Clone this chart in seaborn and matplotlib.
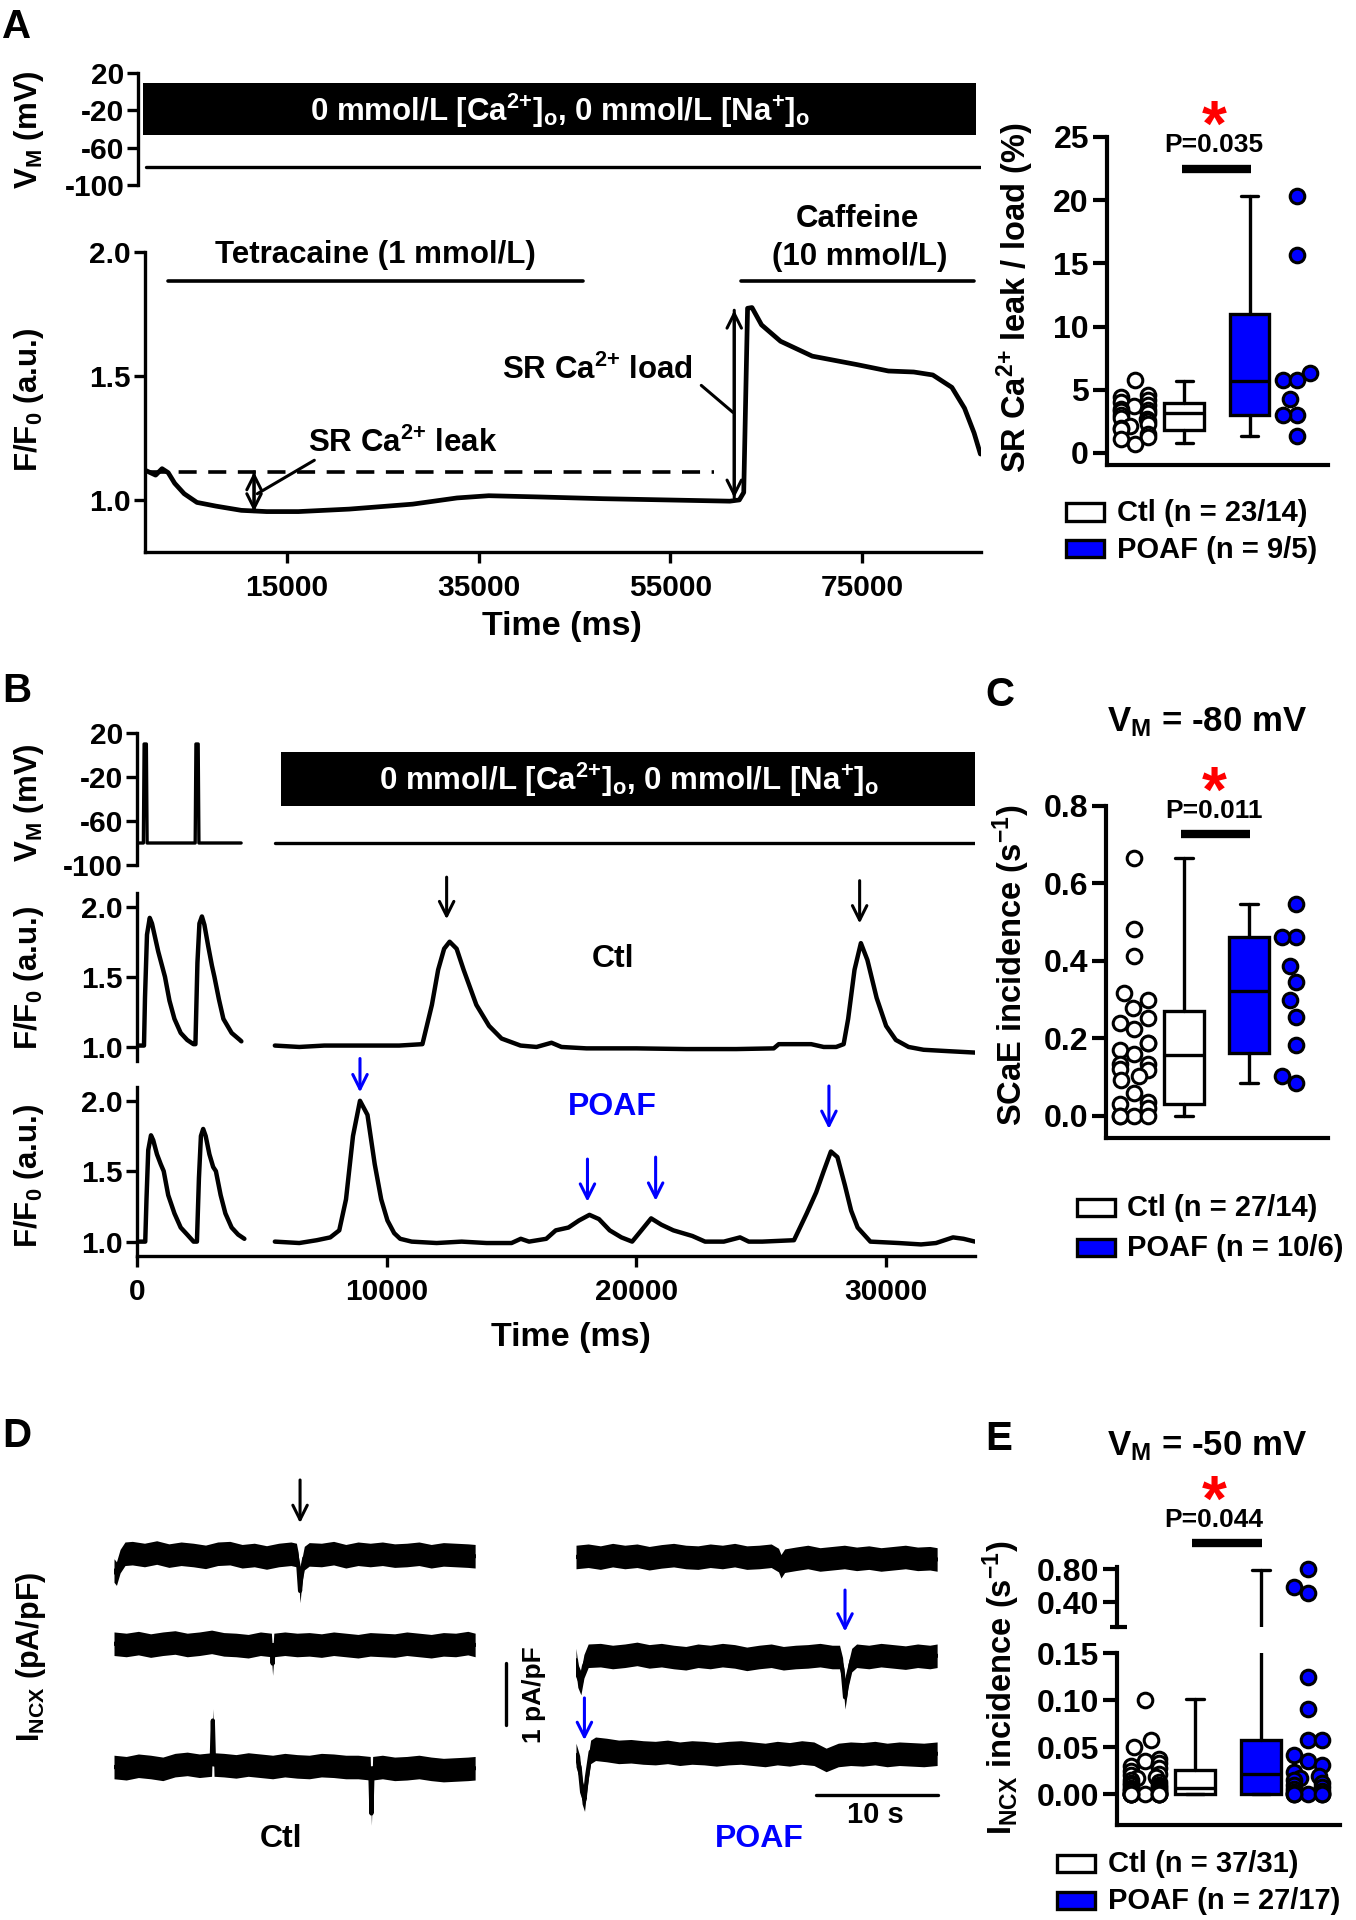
import warnings
import numpy as np
import matplotlib
matplotlib.use("Agg")
import matplotlib.pyplot as plt
import seaborn as sns
from matplotlib.patches import Rectangle

warnings.filterwarnings("ignore")

# ---------------- Panel A : caffeine protocol (F/F0 vs ms) ----------------
a_time = [300, 1290, 1960, 2600, 3280, 4270, 5600, 7590, 10230, 12880, 16190, 21490,
          28110, 32740, 36050, 41350, 47970, 54590, 61210, 62200, 62660, 63060, 63520,
          64520, 66500, 69810, 74450, 77760, 80400, 82390, 84380, 85700, 86700, 87360]
a_ratio = [1.118, 1.10, 1.126, 1.11, 1.067, 1.025, 0.99, 0.975, 0.958, 0.953, 0.953, 0.963,
           0.983, 1.008, 1.017, 1.012, 1.005, 1.0, 0.995, 1.0, 1.03, 1.773, 1.776,
           1.706, 1.64, 1.58, 1.546, 1.52, 1.516, 1.504, 1.454, 1.37, 1.27, 1.185]
a_vm_time = [300, 87360]
a_vm = [-80, -80]
a_bar_time = [0, 86900]
a_bar_mv = [-46.5, 9.0]
a_baseline_time = [640, 59550]
a_baseline = [1.113, 1.113]
a_leak_time = 11560
a_leak_range = [1.113, 0.953]
a_load_time = 61670
a_load_range = [1.008, 1.765]
a_tetracaine_time = [2620, 45850]
a_caffeine_time = [62400, 86700]

# SR Ca leak / load (%)
a_ctl_pts = [5.8, 4.6, 4.4, 4.2, 4.0, 3.8, 3.7, 3.5, 3.4, 3.3, 3.2, 3.0, 2.8, 2.7,
             2.5, 2.3, 2.1, 2.0, 1.9, 1.5, 1.3, 1.1, 0.75]
a_poaf_pts = [20.3, 15.7, 6.3, 5.8, 5.8, 4.3, 3.0, 3.0, 1.37]
a_ctl_box = [0.79, 1.84, 3.16, 3.95, 5.7]      # min, q1, median, q3, max
a_poaf_box = [1.37, 2.97, 5.66, 10.97, 20.3]

# ---------------- Panel B : spontaneous Ca events (F/F0 vs ms) ----------------
b_vm_left_t = [50, 255, 285, 375, 405, 2330, 2360, 2450, 2480, 4170]
b_vm_left = [-80, -80, 10, 10, -80, -80, 10, 10, -80, -80]
b_vm_right_t = [5520, 33560]
b_vm_right = [-80, -80]
b_bar_time = [5770, 33560]
b_bar_mv = [-46.4, 2.7]

b_ctl_left_t = [50, 280, 320, 400, 510, 600, 700, 850, 1000, 1120, 1300, 1500, 1750, 2010,
                2260, 2340, 2420, 2500, 2600, 2700, 2850, 3000, 3100, 3280, 3460, 3790, 4120, 4180]
b_ctl_left = [1.01, 1.01, 1.35, 1.8, 1.92, 1.88, 1.8, 1.68, 1.58, 1.5, 1.33, 1.2, 1.1, 1.05,
              1.02, 1.02, 1.6, 1.88, 1.93, 1.87, 1.72, 1.58, 1.5, 1.34, 1.2, 1.1, 1.05, 1.04]
b_ctl_right_t = [5520, 6500, 7500, 8500, 9500, 10500, 11430, 11810, 12060, 12300, 12520, 12800,
                 13080, 13590, 14100, 14600, 15360, 16000, 16600, 17000, 18000, 20000, 22000,
                 24000, 25500, 25700, 26500, 27000, 27500, 28000, 28300, 28480, 28735, 28990,
                 29250, 29620, 30000, 30390, 30900, 31500, 32500, 33560]
b_ctl_right = [1.01, 1.0, 1.01, 1.01, 1.01, 1.01, 1.02, 1.3, 1.55, 1.7, 1.75, 1.7,
               1.55, 1.3, 1.15, 1.06, 1.01, 1.0, 1.03, 1.0, 0.99, 0.99, 0.985,
               0.985, 0.99, 1.02, 1.02, 1.02, 1.0, 1.0, 1.02, 1.2, 1.55, 1.74,
               1.62, 1.35, 1.15, 1.05, 1.0, 0.98, 0.97, 0.96]
b_poaf_left_t = [50, 330, 380, 450, 560, 650, 800, 950, 1070, 1250, 1500, 1750, 2010, 2265,
                 2400, 2480, 2560, 2650, 2750, 2900, 3050, 3160, 3350, 3540, 3790, 4050, 4300]
b_poaf_left = [1.0, 1.0, 1.3, 1.65, 1.755, 1.72, 1.62, 1.55, 1.5, 1.33, 1.2, 1.1, 1.05, 1.0,
               1.0, 1.45, 1.75, 1.8, 1.75, 1.62, 1.53, 1.5, 1.33, 1.2, 1.1, 1.05, 1.02]
b_poaf_right_t = [5520, 6500, 7200, 7740, 8100, 8370, 8650, 8930, 9230, 9520, 9780, 10030,
                  10300, 10540, 11000, 12000, 13000, 14000, 15000, 15370, 15700, 16390, 16770,
                  17280, 17700, 18120, 18500, 18930, 19400, 19830, 20200, 20590, 21000, 21480,
                  22240, 22750, 23500, 24150, 24500, 25040, 26310, 26820, 27200, 27500, 27790,
                  28050, 28350, 28600, 28860, 29370, 30500, 31400, 32000, 32680, 33100, 33560]
b_poaf_right = [1.0, 0.99, 1.01, 1.03, 1.08, 1.3, 1.75, 2.0, 1.9, 1.55, 1.3, 1.15,
                1.06, 1.02, 1.0, 0.99, 1.0, 0.99, 0.99, 1.02, 1.0, 1.02, 1.08,
                1.1, 1.15, 1.19, 1.16, 1.08, 1.03, 1.0, 1.08, 1.165, 1.12, 1.08,
                1.04, 1.0, 1.0, 1.03, 1.0, 1.0, 1.01, 1.2, 1.35, 1.5, 1.64,
                1.6, 1.4, 1.22, 1.1, 1.0, 0.99, 0.98, 0.99, 1.03, 1.02, 1.0]
b_ctl_arrow_t = [12400, 28940]
b_ctl_arrow_from = [2.21, 2.185]
b_ctl_arrow_to = [1.91, 1.88]
b_poaf_arrow_t = [8930, 18040, 20770, 27710]
b_poaf_arrow_from = [2.30, 1.586, 1.60, 2.105]
b_poaf_arrow_to = [2.06, 1.283, 1.29, 1.80]

# ---------------- Panel C : SCaE incidence (s-1) ----------------
c_ctl_pts = [0.666, 0.482, 0.412, 0.318, 0.298, 0.278, 0.253, 0.239, 0.224, 0.189, 0.189,
             0.17, 0.159, 0.134, 0.134, 0.12, 0.119, 0.104, 0.094, 0.06, 0.035, 0.03, 0.02,
             0.0, 0.0, 0.0, 0.0]
c_poaf_pts = [0.547, 0.462, 0.462, 0.388, 0.345, 0.298, 0.255, 0.184, 0.104, 0.0845]
c_ctl_box = [0.0, 0.030, 0.157, 0.270, 0.666]
c_poaf_box = [0.0845, 0.162, 0.323, 0.462, 0.547]

# ---------------- Panel D : I_NCX traces (pA/pF vs s) ----------------
d_ctl1_t = [0, 0.2, 0.5, 0.9, 1.5, 2.5, 3.5, 4.5, 5.5, 6.5, 7.5, 8.5, 9.5, 10.5, 11.5, 12.5,
            13.5, 14.5, 14.95, 15.1, 15.25, 15.4, 15.6, 16, 17, 18, 19, 20, 21, 22, 23, 24,
            25, 26, 27, 28, 29, 29.6]
d_ctl1_i = [-0.25, -0.3, -0.1, 0.02, 0.03, 0.0, 0.04, -0.01, 0.02, 0.0, -0.03, 0.02, 0.03,
            -0.02, 0.0, -0.04, 0.0, 0.02, 0.0, -0.15, -0.58, -0.25, -0.05, 0.01, 0.0, 0.03,
            -0.02, 0.02, 0.0, 0.02, -0.01, 0.0, 0.02, -0.02, 0.01, 0.0, -0.01, -0.02]
d_ctl2_t = [0, 1, 2, 3, 4, 5, 6, 7, 8, 9, 10, 11, 12, 12.9, 13.0, 13.1, 14, 15, 16, 17, 18,
            19, 20, 21, 22, 23, 24, 25, 26, 27, 28, 29, 29.6]
d_ctl2_i = [0.02, 0.0, 0.03, -0.01, 0.02, 0.04, 0.0, 0.02, 0.05, 0.01, 0.0, -0.02, 0.02,
            0.0, -0.3, 0.0, 0.02, 0.0, 0.01, -0.01, 0.02, 0.0, -0.02, 0.01, 0.0, -0.01, 0.02,
            0.0, -0.02, 0.01, 0.0, 0.03, 0.0]
d_ctl3_t = [0, 1, 2, 3, 4, 5, 6, 7, 8.0, 8.1, 8.2, 9, 10, 11, 12, 13, 14, 15, 16, 17, 18, 19,
            20, 21.0, 21.1, 21.2, 22, 23, 24, 25, 26, 27, 28, 29, 29.6]
d_ctl3_i = [0.0, -0.02, 0.02, 0.0, -0.03, 0.03, 0.05, 0.02, 0.04, 0.75, 0.04, 0.03, 0.01,
            0.04, 0.02, 0.0, 0.03, 0.01, 0.0, 0.03, 0.02, 0.0, 0.0, -0.02, -0.75, -0.02, 0.0,
            -0.03, -0.02, 0.0, -0.03, -0.05, -0.04, -0.03, -0.02]
d_poaf1_t = [0, 1, 2, 3, 4, 5, 6, 7, 8, 9, 10, 11, 12, 13, 14, 15, 16, 16.6, 16.8, 17.1, 18,
             19, 20, 21, 22, 23, 24, 25, 26, 27, 28, 29, 29.6]
d_poaf1_i = [0.0, 0.02, -0.01, 0.03, 0.0, 0.02, -0.02, 0.01, 0.03, 0.0, -0.01, 0.02, 0.0,
             0.03, -0.01, 0.0, 0.02, -0.05, -0.15, -0.06, -0.03, 0.0, -0.04, -0.02, 0.0, -0.03,
             -0.01, -0.04, -0.02, 0.0, -0.03, -0.02, -0.04]
d_poaf2_t = [0, 0.15, 0.4, 0.65, 1.0, 2, 3, 4, 5, 6, 7, 8, 9, 10, 11, 12, 13, 14, 15, 16, 17,
             18, 19, 20, 21, 21.6, 21.85, 22.05, 22.3, 22.6, 23, 24, 25, 26, 27, 28, 29, 29.6]
d_poaf2_i = [-0.05, -0.3, -0.42, -0.15, 0.02, 0.03, 0.0, 0.02, 0.05, 0.01, 0.03, 0.0, -0.02,
             0.02, 0.0, 0.03, 0.01, -0.03, 0.0, 0.02, -0.02, 0.0, 0.01, 0.03, 0.0, 0.0, -0.2,
             -0.65, -0.3, -0.05, 0.02, 0.0, 0.03, 0.01, -0.01, 0.02, 0.0, 0.02]
d_poaf3_t = [0, 0.3, 0.5, 0.7, 0.9, 1.2, 1.6, 2.5, 3.5, 4.5, 5.5, 6.5, 7.5, 8.5, 9.5, 10.5,
             11.5, 12.5, 13.5, 14.5, 15.5, 16.5, 17.5, 18.5, 19.5, 20.5, 21.5, 22.5, 23.5,
             24.5, 25.5, 26.5, 27.5, 28.5, 29.6]
d_poaf3_i = [0.0, -0.2, -0.6, -0.72, -0.35, 0.05, 0.1, 0.08, 0.05, 0.06, 0.04, 0.03, 0.05,
             0.02, 0.04, 0.03, 0.01, 0.03, 0.04, 0.02, 0.0, 0.03, 0.01, 0.04, 0.02, -0.08,
             0.0, 0.02, 0.01, 0.03, 0.0, 0.02, 0.01, 0.0, 0.02]
d_ctl_arrow = [15.25, 5.645, 4.95]        # time, from, to (top trace)
d_poaf_arrow_t = [22.05, 0.69]
d_poaf_arrow_from = [3.87, 2.13]
d_poaf_arrow_to = [3.2, 1.45]

# ---------------- Panel E : I_NCX incidence (s-1) ----------------
e_ctl_pts = [0.1, 0.058, 0.05, 0.038, 0.035, 0.033, 0.03, 0.028, 0.025, 0.022, 0.02, 0.018,
             0.017, 0.015, 0.013, 0.012, 0.01, 0.01, 0.008, 0.007, 0.006, 0.005, 0.004,
             0.003, 0.002, 0, 0, 0, 0, 0, 0, 0, 0, 0, 0, 0, 0]
e_poaf_pts = [0.8, 0.588, 0.508, 0.125, 0.091, 0.058, 0.058, 0.042, 0.035, 0.031, 0.024,
              0.019, 0.017, 0.015, 0.012, 0.010, 0.008, 0.006, 0.004, 0.002, 0, 0, 0, 0, 0,
              0, 0]
e_ctl_box = [0.0, 0.0, 0.007, 0.026, 0.101]
e_poaf_box = [0.0, 0.0, 0.022, 0.058, 0.79]

# ---------------- style ----------------
sns.set_theme(style="ticks")
plt.rcParams.update({
    "font.family": ["Liberation Sans", "DejaVu Sans"],
    "font.weight": "bold",
    "axes.labelweight": "bold",
    "mathtext.default": "regular",
    "axes.unicode_minus": False,
    "axes.edgecolor": "black",
    "xtick.color": "black",
    "ytick.color": "black",
})

BLUE = "#0000ff"
W, H = 1356, 1920
POS = [0.0, 0.9, 2.08, 2.93]      # ctl dots, ctl box, poaf box, poaf dots
SW = 1.6                          # x stretch of the dot overlay (keeps swarms narrow)
TR_FS = 22.5
TICK_FS = 21.5
CA2 = r"Ca$^{2{+}}$"

fig = plt.figure(figsize=(W / 100, H / 100), dpi=100)


def px_axes(l, t, r, b):
    return fig.add_axes([l / W, 1 - b / H, (r - l) / W, (b - t) / H])


def ftext(x, y, s, size=TR_FS, ha="center", va="baseline", color="black", rot=0):
    fig.text(x / W, 1 - y / H, s, fontsize=size, ha=ha, va=va, color=color,
             rotation=rot, fontweight="bold")


def style_trace(ax, xaxis=False):
    ax.set_facecolor("none")
    ax.spines["top"].set_visible(False)
    ax.spines["right"].set_visible(False)
    ax.spines["bottom"].set_visible(xaxis)
    for s in ("left", "bottom"):
        ax.spines[s].set_linewidth(2.4)
    ax.tick_params(axis="y", length=8, width=2.4, labelsize=TICK_FS, pad=2)
    if xaxis:
        ax.tick_params(axis="x", length=8, width=2.4, labelsize=TICK_FS, pad=8)
    else:
        ax.tick_params(axis="x", bottom=False, labelbottom=False)


def arrow(ax, x, y0, y1, color):
    ax.annotate("", xy=(x, y1), xytext=(x, y0), annotation_clip=False,
                arrowprops=dict(arrowstyle="->", color=color, lw=2.2, mutation_scale=26,
                                shrinkA=0, shrinkB=0))


def boxes(ax, items):
    for stats, pos, face in items:
        lo, q1, med, q3, hi = stats
        ax.bxp([dict(whislo=lo, q1=q1, med=med, q3=q3, whishi=hi, fliers=[])],
               positions=[pos], widths=0.72, capwidths=0.32, patch_artist=True,
               showfliers=False, manage_ticks=False,
               boxprops=dict(facecolor=face, edgecolor="black", linewidth=2.4),
               medianprops=dict(color="black", linewidth=2.4),
               whiskerprops=dict(color="black", linewidth=2.4),
               capprops=dict(color="black", linewidth=2.4))


def dots(ax, groups):
    # overlay with stretched x scale so seaborn's swarm gutter is narrower
    ylim = ax.get_ylim()
    axd = fig.add_axes(ax.get_position().bounds)
    axd.set_xlim(-0.5 * SW, 3.5 * SW)
    axd.set_ylim(*ylim)
    for vals, pos, face in groups:
        if len(vals) == 0:
            continue
        sns.swarmplot(x=[pos * SW] * len(vals), y=vals, native_scale=True, orient="x",
                      ax=axd, color=face, edgecolor="black", linewidth=2.2, size=10.5)
    for coll in axd.collections:
        coll.set_clip_on(False)
    axd.set_xlim(-0.5 * SW, 3.5 * SW)
    axd.set_ylim(*ylim)
    axd.axis("off")


def style_box(ax, ylim, ticks, labels, bottom=True):
    ax.set_xlim(-0.5, 3.5)
    ax.set_ylim(*ylim)
    ax.set_facecolor("none")
    ax.spines["top"].set_visible(False)
    ax.spines["right"].set_visible(False)
    ax.spines["bottom"].set_visible(bottom)
    for s in ("left", "bottom"):
        ax.spines[s].set_linewidth(3.0)
    ax.set_xticks([])
    ax.set_yticks(ticks)
    ax.set_yticklabels(labels)
    ax.tick_params(axis="y", length=10, width=3.0, labelsize=23, pad=3)


def legend(px, rows, labels, text_x):
    for (y, lab, face) in zip(rows, labels, ("white", BLUE)):
        fig.patches.append(Rectangle((px[0] / W, 1 - (y + 8.5) / H), (px[1] - px[0]) / W,
                                     17 / H, transform=fig.transFigure, facecolor=face,
                                     edgecolor="black", linewidth=2.4))
        ftext(text_x, y + 9, lab, size=21, ha="left")


def sig(ax, y, p, star_y, p_y):
    ax.plot([POS[1] - 0.05, POS[2] + 0.02], [y, y], color="black", lw=6,
            solid_capstyle="butt", clip_on=False)
    ftext(1214, star_y, "*", size=46, color="red")
    ftext(1214, p_y, p, size=19)


# ================= Panel A =================
ax = px_axes(138.4, 72.9, 981, 185.4)
ax.fill_between(a_bar_time, a_bar_mv[0], a_bar_mv[1], color="black", lw=0)
sns.lineplot(x=a_vm_time, y=a_vm, ax=ax, color="black", lw=2.4)
ax.set_xlim(-506, 87420)
ax.set_ylim(-100, 20)
ax.set_yticks([-100, -60, -20, 20])
style_trace(ax)
ftext(560, 121, "0 mmol/L [" + CA2 + r"]$_{o}$, 0 mmol/L [Na$^{+}$]$_{o}$", color="white")

ax = px_axes(144.8, 252, 981, 552)
sns.lineplot(x=a_time, y=a_ratio, ax=ax, color="black", lw=3.4, sort=False)
ax.plot(a_baseline_time, a_baseline, color="black", lw=2.6, dashes=(5, 3.2))
arrow(ax, a_leak_time, a_leak_range[0], a_leak_range[1], "black")
arrow(ax, a_leak_time, a_leak_range[1], a_leak_range[0], "black")
arrow(ax, a_load_time, a_load_range[0], a_load_range[1], "black")
arrow(ax, a_load_time, a_load_range[1], a_load_range[0], "black")
ax.plot([11900, 17850], [1.025, 1.16], color="black", lw=2.2)
ax.plot([58230, 61540], [1.462, 1.353], color="black", lw=2.2)
ax.plot(a_tetracaine_time, [1.882, 1.882], color="black", lw=2.6, clip_on=False)
ax.plot(a_caffeine_time, [1.882, 1.882], color="black", lw=2.6, clip_on=False)
ax.set_xlim(160, 87420)
ax.set_ylim(0.79, 2.0)
ax.set_yticks([1.0, 1.5, 2.0])
ax.set_xticks([15000, 35000, 55000, 75000])
style_trace(ax, xaxis=True)
ftext(375, 262.5, "Tetracaine (1 mmol/L)")
ftext(857, 227, "Caffeine")
ftext(860, 264.6, "(10 mmol/L)")
ftext(597, 379, "SR " + CA2 + " load")
ftext(403, 452, "SR " + CA2 + " leak")
ftext(562, 635, "Time (ms)", size=24.5)
ftext(28.6, 130, r"V$_{M}$ (mV)", va="center", rot=90)
ftext(28.6, 400, r"F/F$_{0}$ (a.u.)", va="center", rot=90)
ftext(2, 37.5, "A", size=29, ha="left")

# A right : leak/load boxes
a_ticks = [0, 5, 10, 15, 20, 25]
ax = px_axes(1107, 137, 1328, 465)
boxes(ax, [(a_ctl_box, POS[1], "white"), (a_poaf_box, POS[2], BLUE)])
style_box(ax, (-0.95, 25), a_ticks, [str(t) for t in a_ticks])
dots(ax, [(a_ctl_pts, POS[0], "white"), (a_poaf_pts, POS[3], BLUE)])
sig(ax, 22.5, "P=0.035", 146, 151.7)
ftext(1015, 298, "SR " + CA2 + " leak / load (%)", size=23.5, va="center", rot=90)
legend((1066, 1104), (512, 549), ("Ctl (n = 23/14)", "POAF (n = 9/5)"), 1116.7)

# ================= Panel B =================
ax = px_axes(137, 733, 975, 865)
ax.fill_between(b_bar_time, b_bar_mv[0], b_bar_mv[1], color="black", lw=0)
ax.plot(b_vm_left_t, b_vm_left, color="black", lw=2.4)
ax.plot(b_vm_right_t, b_vm_right, color="black", lw=2.4)
ax.set_xlim(0, 33560)
ax.set_ylim(-100, 20)
ax.set_yticks([-100, -60, -20, 20])
style_trace(ax)
ftext(628.6, 790, "0 mmol/L [" + CA2 + r"]$_{o}$, 0 mmol/L [Na$^{+}$]$_{o}$", color="white")

ax = px_axes(137, 892.6, 975, 1061)
ax.plot(b_ctl_left_t, b_ctl_left, color="black", lw=3.2)
ax.plot(b_ctl_right_t, b_ctl_right, color="black", lw=3.2)
for t, y0, y1 in zip(b_ctl_arrow_t, b_ctl_arrow_from, b_ctl_arrow_to):
    arrow(ax, t, y0, y1, "black")
ax.set_xlim(0, 33560)
ax.set_ylim(0.9, 2.1)
ax.set_yticks([1.0, 1.5, 2.0])
style_trace(ax)

ax = px_axes(137, 1086.7, 975, 1255.7)
ax.plot(b_poaf_left_t, b_poaf_left, color="black", lw=3.2)
ax.plot(b_poaf_right_t, b_poaf_right, color="black", lw=3.2)
for t, y0, y1 in zip(b_poaf_arrow_t, b_poaf_arrow_from, b_poaf_arrow_to):
    arrow(ax, t, y0, y1, BLUE)
ax.set_xlim(0, 33560)
ax.set_ylim(0.9, 2.1)
ax.set_yticks([1.0, 1.5, 2.0])
ax.set_xticks([0, 10000, 20000, 30000])
style_trace(ax, xaxis=True)

ftext(612.7, 967, "Ctl", size=23)
ftext(612.7, 1115, "POAF", size=23, color=BLUE)
ftext(571, 1346, "Time (ms)", size=24.5)
ftext(28.6, 803, r"V$_{M}$ (mV)", va="center", rot=90)
ftext(28.6, 978, r"F/F$_{0}$ (a.u.)", va="center", rot=90)
ftext(28.6, 1176, r"F/F$_{0}$ (a.u.)", va="center", rot=90)
ftext(2, 702, "B", size=29, ha="left")

# ================= Panel C =================
c_ticks = [0.0, 0.2, 0.4, 0.6, 0.8]
ax = px_axes(1106, 806, 1328, 1138)
boxes(ax, [(c_ctl_box, POS[1], "white"), (c_poaf_box, POS[2], BLUE)])
style_box(ax, (-0.057, 0.8), c_ticks, [f"{t:.1f}" for t in c_ticks])
dots(ax, [(c_ctl_pts, POS[0], "white"), (c_poaf_pts, POS[3], BLUE)])
sig(ax, 0.728, "P=0.011", 812, 817.7)
ftext(1206.7, 731, r"V$_{M}$ = -80 mV", size=25)
ftext(1011.5, 965, r"SCaE incidence (s$^{-1}$)", size=23.5, va="center", rot=90)
legend((1076.7, 1115), (1207, 1247.5), ("Ctl (n = 27/14)", "POAF (n = 10/6)"), 1126.7)
ftext(985, 706, "C", size=29, ha="left")

# ================= Panel D =================
D_CTL_ROWS = [4.435, 2.984, 1.016]
D_POAF_ROWS = [4.403, 2.79, 1.21]
D_HALF = 0.19
ax_dc = px_axes(114, 1470, 475.5, 1830)
ax_dp = px_axes(576, 1470, 937.5, 1830)
for ax, rows, traces in (
        (ax_dc, D_CTL_ROWS, [(d_ctl1_t, d_ctl1_i), (d_ctl2_t, d_ctl2_i), (d_ctl3_t, d_ctl3_i)]),
        (ax_dp, D_POAF_ROWS, [(d_poaf1_t, d_poaf1_i), (d_poaf2_t, d_poaf2_i), (d_poaf3_t, d_poaf3_i)])):
    for off, (t, cur) in zip(rows, traces):
        y = np.asarray(cur) + off
        ax.fill_between(t, y - D_HALF, y + D_HALF, color="black", lw=0)
        ax.plot(t, y, color="black", lw=3.0)
    ax.set_xlim(0, 29.63)
    ax.set_ylim(0, 5.806)
    ax.axis("off")
arrow(ax_dc, d_ctl_arrow[0], d_ctl_arrow[1], d_ctl_arrow[2], "black")
for t, y0, y1 in zip(d_poaf_arrow_t, d_poaf_arrow_from, d_poaf_arrow_to):
    arrow(ax_dp, t, y0, y1, BLUE)
# scale bars: 1 pA/pF and 10 s
ax_dp.plot([-5.74, -5.74], [1.694, 1.694 + 1], color="black", lw=2.4, clip_on=False)
ax_dp.plot([19.64, 19.64 + 10], [0.565, 0.565], color="black", lw=2.4, clip_on=False)
ftext(534.4, 1695, "1 pA/pF", size=19, va="center", rot=90)
ftext(875, 1823, "10 s", size=21)
ftext(281, 1846.7, "Ctl", size=23)
ftext(759.4, 1846.7, "POAF", size=23, color=BLUE)
ftext(31, 1657, r"I$_{NCX}$ (pA/pF)", size=22, va="center", rot=90)
ftext(2, 1447, "D", size=29, ha="left")

# ================= Panel E =================
eu_lim = (0.107, 0.828)
el_lim = (-0.0327, 0.15)
ax_u = px_axes(1117.3, 1566.7, 1340, 1626.7)
ax_l = px_axes(1117.3, 1653.3, 1340, 1825)
boxes(ax_u, [(e_poaf_box, POS[2], BLUE)])
boxes(ax_l, [(e_ctl_box, POS[1], "white"), (e_poaf_box, POS[2], BLUE)])
style_box(ax_u, eu_lim, [0.4, 0.8], ["0.40", "0.80"], bottom=False)
style_box(ax_l, el_lim, [0.0, 0.05, 0.10, 0.15], ["0.00", "0.05", "0.10", "0.15"])
dots(ax_u, [([v for v in e_poaf_pts if v > 0.3], POS[3], BLUE)])
dots(ax_l, [([v for v in e_ctl_pts if v <= 0.3], POS[0], "white"),
            ([v for v in e_poaf_pts if v <= 0.3], POS[3], BLUE)])
ax_u.plot([-0.033, 0.045], [0, 0], transform=ax_u.transAxes, color="black", lw=3.0,
          clip_on=False, solid_capstyle="butt")
sig(ax_u, 1.112, "P=0.044", 1521, 1526.7)
ftext(1206.7, 1455, r"V$_{M}$ = -50 mV", size=25)
ftext(1001.7, 1688, r"I$_{NCX}$ incidence (s$^{-1}$)", size=23.5, va="center", rot=90)
legend((1056.7, 1095), (1863, 1900), ("Ctl (n = 37/31)", "POAF (n = 27/17)"), 1108.3)
ftext(985, 1450, "E", size=29, ha="left")

fig.savefig("out.png", dpi=100)
